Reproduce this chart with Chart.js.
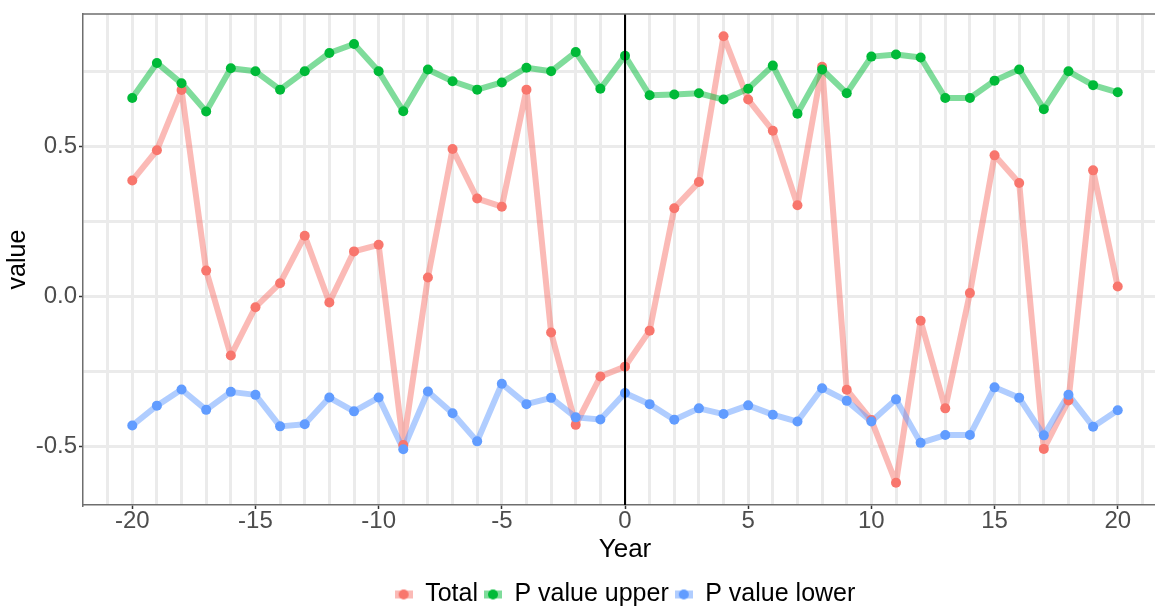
<!DOCTYPE html>
<html><head><meta charset="utf-8">
<script src="https://cdn.jsdelivr.net/npm/chart.js@4.4.1/dist/chart.umd.min.js"></script>
<style>
html,body{margin:0;padding:0;background:#fff;overflow:hidden;width:1155px;height:608px}
#wrap{position:absolute;left:0;top:0;width:1250px;height:608px}
</style>
</head><body><div id="wrap"><canvas id="c" width="1250" height="608"></canvas></div>
<script>
const years = [-20,-19,-18,-17,-16,-15,-14,-13,-12,-11,-10,-9,-8,-7,-6,-5,-4,-3,-2,-1,0,1,2,3,4,5,6,7,8,9,10,11,12,13,14,15,16,17,18,19,20];
const total = [0.386,0.487,0.688,0.086,-0.197,-0.036,0.044,0.202,-0.020,0.150,0.172,-0.495,0.063,0.491,0.326,0.299,0.689,-0.120,-0.428,-0.267,-0.234,-0.114,0.294,0.381,0.867,0.656,0.552,0.304,0.765,-0.311,-0.412,-0.621,-0.081,-0.373,0.011,0.470,0.378,-0.508,-0.347,0.420,0.033];
const pUpper = [0.661,0.778,0.710,0.616,0.760,0.750,0.689,0.750,0.811,0.841,0.750,0.617,0.756,0.717,0.689,0.713,0.762,0.750,0.814,0.692,0.802,0.670,0.673,0.677,0.656,0.692,0.769,0.609,0.756,0.677,0.799,0.806,0.796,0.661,0.661,0.719,0.756,0.624,0.750,0.704,0.680];
const pLower = [-0.430,-0.364,-0.310,-0.378,-0.318,-0.328,-0.433,-0.426,-0.337,-0.383,-0.337,-0.509,-0.317,-0.389,-0.483,-0.291,-0.359,-0.338,-0.403,-0.410,-0.322,-0.359,-0.411,-0.373,-0.392,-0.363,-0.394,-0.417,-0.306,-0.348,-0.417,-0.343,-0.488,-0.462,-0.462,-0.303,-0.338,-0.463,-0.328,-0.434,-0.379];
const seriesNames = ['Total','P value upper','P value lower'];
const seriesColors = ['#F8766D','#00BA38','#619CFF'];
const seriesFaded = ['rgba(248,118,109,0.5)','rgba(0,186,56,0.5)','rgba(97,156,255,0.5)'];
const xGridTicks = [-21,-20,-19,-18,-17,-16,-15,-14,-13,-12,-11,-10,-9,-8,-7,-6,-5,-4,-3,-2,-1,0,1,2,3,4,5,6,7,8,9,10,11,12,13,14,15,16,17,18,19,20,21];
const xLabelTicks = [-20,-15,-10,-5,0,5,10,15,20];
const yGridTicks = [-0.5,-0.25,0,0.25,0.5,0.75];
const yLabelTicks = {'-0.5':'-0.5','0':'0.0','0.5':'0.5'};

const FONT = "'Liberation Sans', Arial, sans-serif";
const allValues = [total,pUpper,pLower];
const pts = arr => years.map((y,i)=>({x:y,y:arr[i]}));

const datasets = [];
allValues.forEach((arr,i)=>{
  datasets.push({label:seriesNames[i]+' line',data:pts(arr),showLine:true,borderColor:seriesFaded[i],borderWidth:6,
    pointRadius:0,pointHoverRadius:0,fill:false,tension:0,order:10-i,borderJoinStyle:'round',borderCapStyle:'butt'});
});
allValues.forEach((arr,i)=>{
  datasets.push({label:seriesNames[i],data:pts(arr),showLine:false,pointRadius:5,pointHoverRadius:5,
    pointBackgroundColor:seriesColors[i],pointBorderWidth:0,borderColor:seriesColors[i],order:5-i});
});

function legendMarker(i){
  const c=document.createElement('canvas'); c.width=18; c.height=12;
  const g=c.getContext('2d');
  g.fillStyle=seriesFaded[i]; g.fillRect(0,2,18,8);
  g.fillStyle=seriesColors[i]; g.beginPath(); g.arc(9,6,5,0,Math.PI*2); g.fill();
  return c;
}
const markers=[0,1,2].map(legendMarker);

const overlay={
  id:'overlay',
  afterDatasetsDraw(chart){
    const {ctx,chartArea:a,scales:{x}}=chart;
    const px=x.getPixelForValue(0);
    ctx.save(); ctx.strokeStyle='#000'; ctx.lineWidth=2;
    ctx.beginPath(); ctx.moveTo(px,a.top); ctx.lineTo(px,a.bottom); ctx.stroke(); ctx.restore();
  },
  afterDraw(chart){
    const {ctx,chartArea:a}=chart;
    ctx.save(); ctx.strokeStyle='#6e6e6e'; ctx.lineWidth=1.5;
    ctx.beginPath(); ctx.moveTo(a.left,a.top); ctx.lineTo(a.right+20,a.top); ctx.stroke(); ctx.restore();
  }
};

new Chart(document.getElementById('c'),{
  type:'scatter',
  data:{datasets},
  plugins:[overlay],
  options:{
    responsive:false,animation:false,devicePixelRatio:1,
    layout:{padding:{top:14,right:83,left:0,bottom:0}},
    plugins:{
      tooltip:{enabled:false},
      legend:{position:'bottom',fullSize:false,maxHeight:32,
        labels:{usePointStyle:true,pointStyleWidth:18,padding:6,color:'#000',font:{family:FONT,size:25},
          generateLabels:()=>seriesNames.map((n,i)=>({text:n,pointStyle:markers[i],fillStyle:seriesColors[i],
            strokeStyle:'rgba(0,0,0,0)',lineWidth:0,hidden:false,datasetIndex:3+i,fontColor:'#000'}))}
      }
    },
    scales:{
      x:{type:'linear',min:-22,max:22,
        afterBuildTicks:ax=>{ax.ticks=xGridTicks.map(v=>({value:v}));},
        afterFit:ax=>{ax.height=71;ax.paddingLeft=0;ax.paddingRight=0;},
        grid:{color:'#EBEBEB',lineWidth:3,drawTicks:true,tickLength:4,tickWidth:1.5,
          tickColor:c=>xLabelTicks.includes(c.tick&&c.tick.value)?'#333':'rgba(0,0,0,0)'},
        border:{display:true,color:'#6e6e6e',width:1.5},
        ticks:{autoSkip:false,maxRotation:0,padding:-2,color:'#4D4D4D',font:{family:FONT,size:24},
          callback:v=>xLabelTicks.includes(v)?String(v):''},
        title:{display:true,text:'Year',color:'#000',font:{family:FONT,size:26},padding:{top:0,bottom:11}}
      },
      y:{type:'linear',min:-0.695,max:0.941,
        afterBuildTicks:ax=>{ax.ticks=yGridTicks.map(v=>({value:v}));},
        afterFit:ax=>{ax.width=83;ax.paddingTop=0;ax.paddingBottom=0;},
        grid:{color:'#EBEBEB',lineWidth:3,drawTicks:true,tickLength:4,tickWidth:1.5,
          tickColor:c=>(c.tick&&yLabelTicks[String(c.tick.value)]!==undefined)?'#333':'rgba(0,0,0,0)'},
        border:{display:true,color:'#6e6e6e',width:1.5},
        ticks:{padding:2,color:'#4D4D4D',font:{family:FONT,size:24},
          callback:v=>yLabelTicks[String(v)]!==undefined?yLabelTicks[String(v)]:''},
        title:{display:true,text:'value',color:'#000',font:{family:FONT,size:25},padding:{top:3,bottom:0}}
      }
    }
  }
});
</script></body></html>
